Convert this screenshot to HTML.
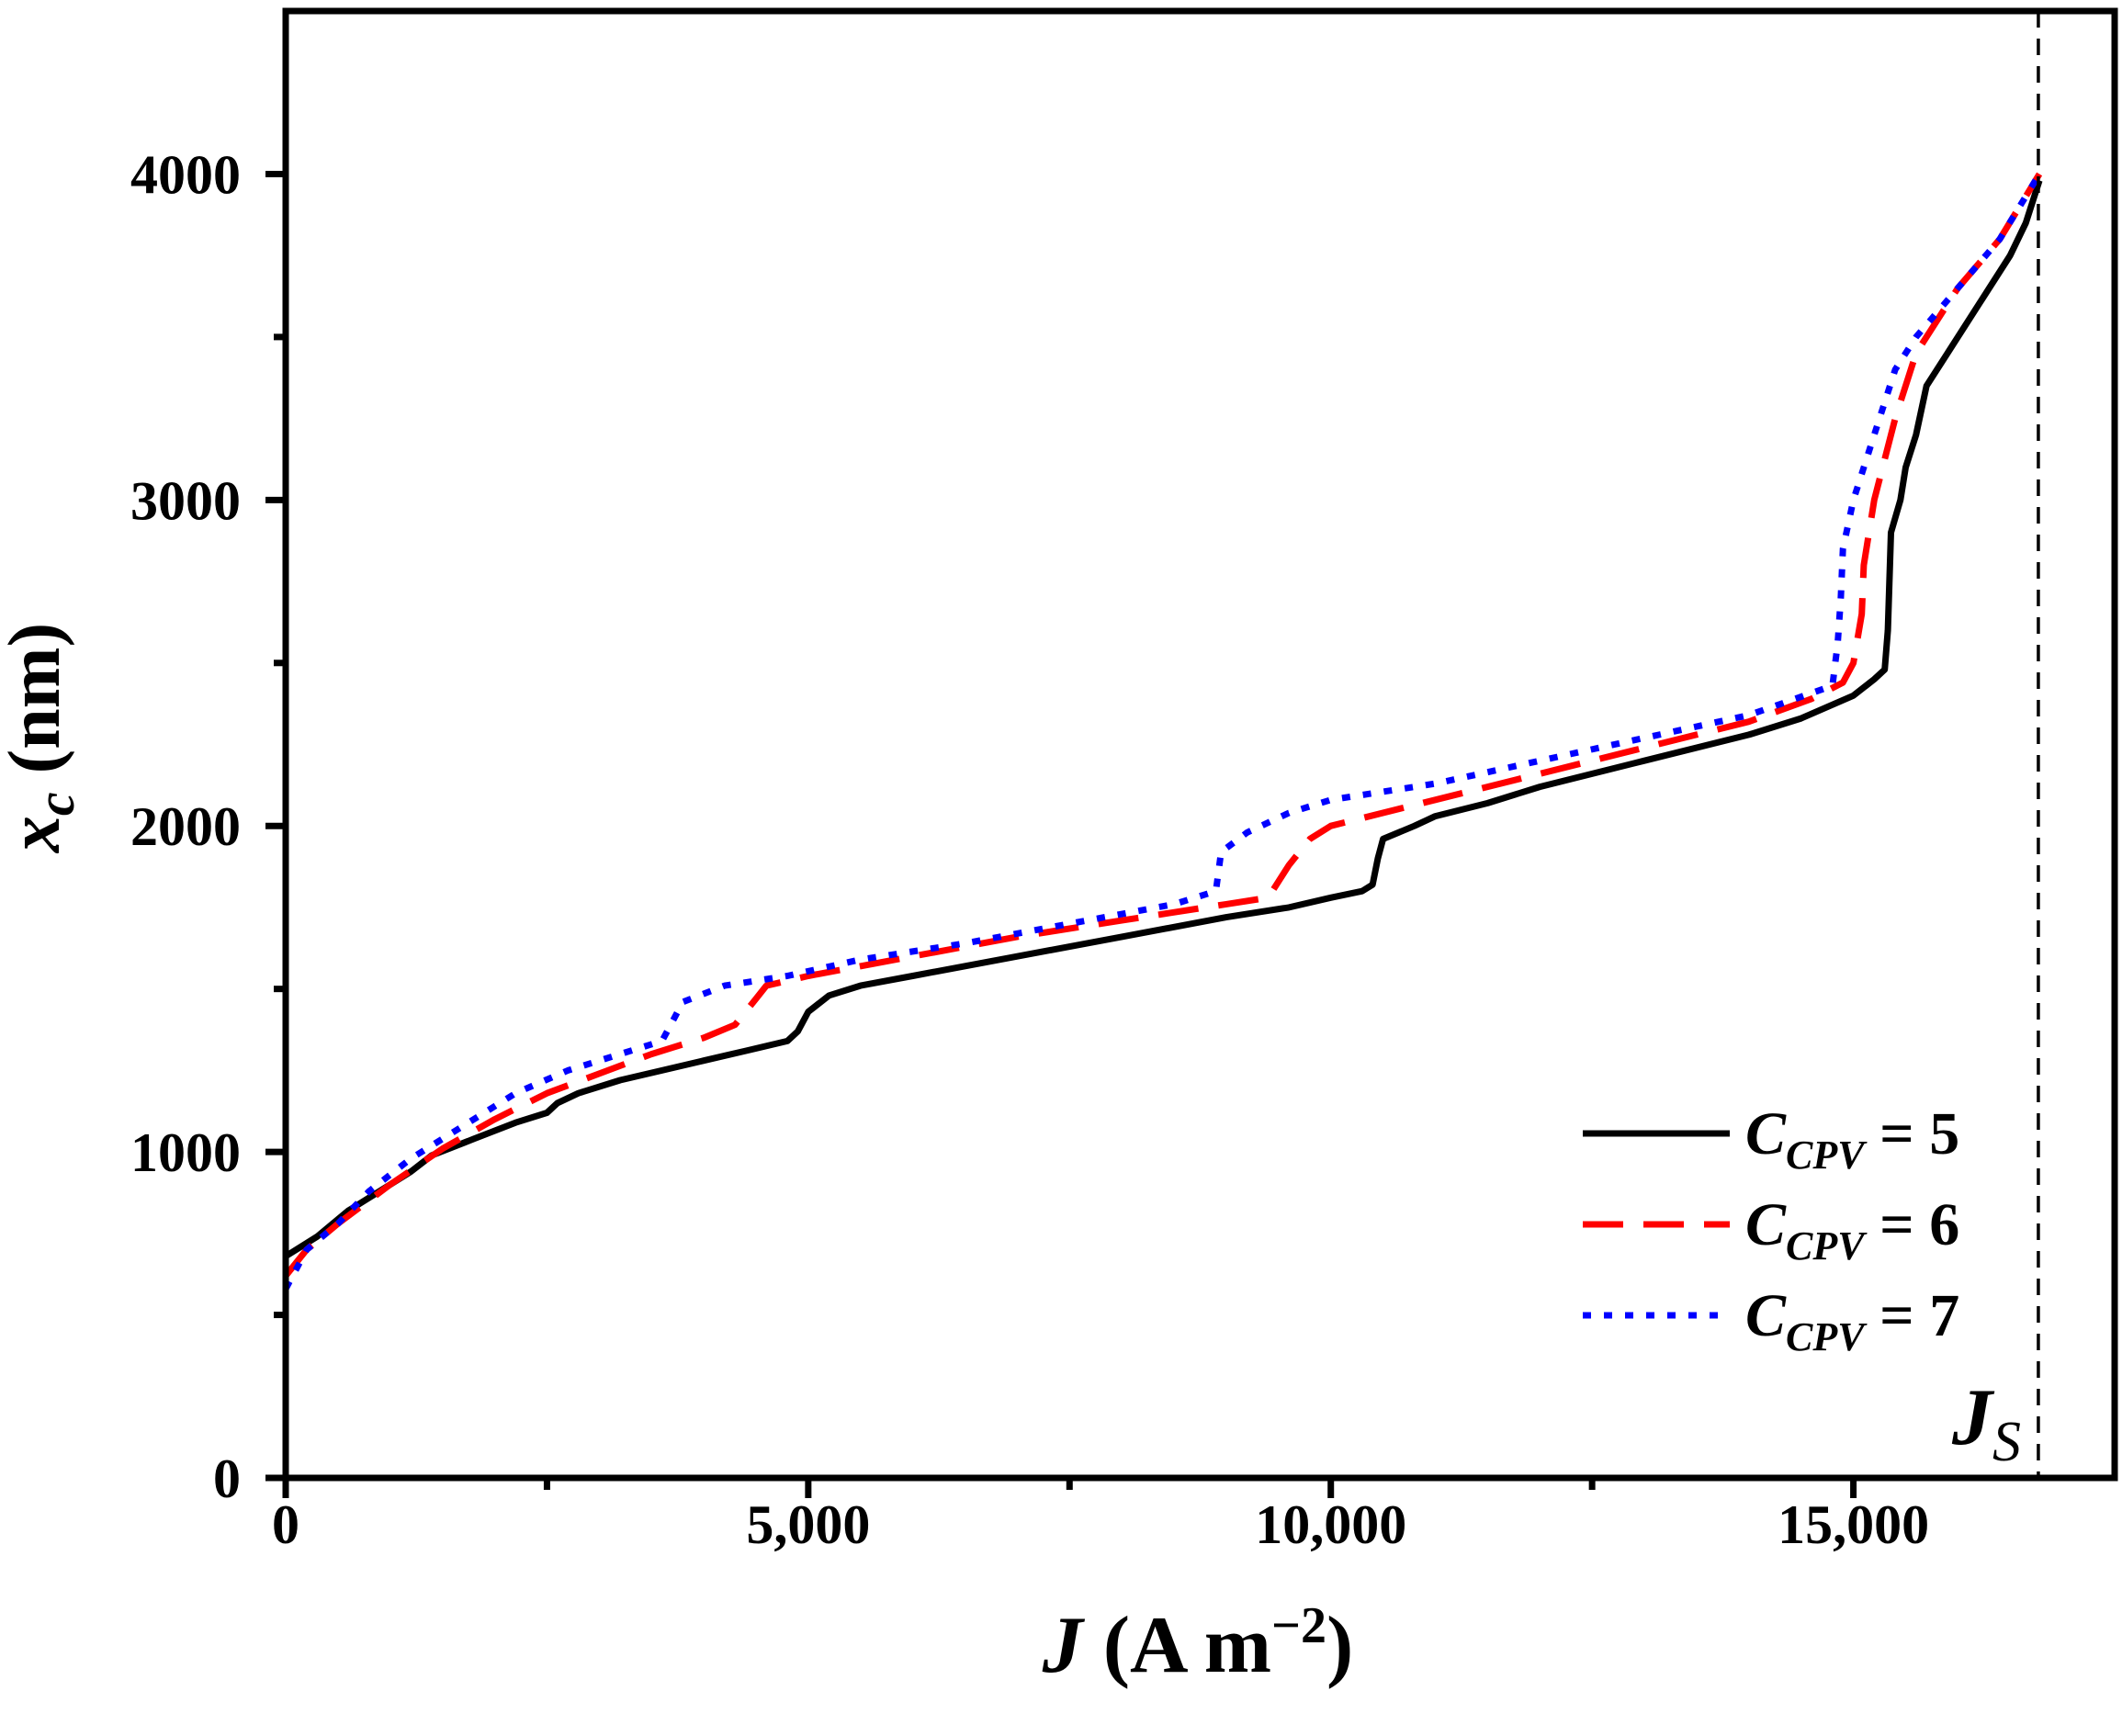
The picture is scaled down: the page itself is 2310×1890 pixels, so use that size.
<!DOCTYPE html>
<html><head><meta charset="utf-8"><style>
html,body{margin:0;padding:0;background:#fff}
svg{display:block}
svg text{font-family:"Liberation Serif","Times New Roman",serif;font-weight:bold}
</style></head><body>
<svg id="chart" width="2310" height="1890" viewBox="0 0 2310 1890" xmlns="http://www.w3.org/2000/svg">
<g id="plot"></g>
</svg>
<script>
const xTicks=[0,5000,10000,15000];
const xTickLabels=["0","5,000","10,000","15,000"];
const yTicks=[0,1000,2000,3000,4000];
const yTickLabels=["0","1000","2000","3000","4000"];
const jsValue=16770;
const seriesNames=["5","6","7"];
const c5J=[0,300,600,1000,1200,1400,1800,2200,2500,2600,2800,3200,3600,4000,4400,4800,4900,5000,5200,5500,6000,7000,8000,9000,9600,10000,10300,10400,10450,10500,10800,11000,11500,12000,13000,14000,14500,15000,15200,15300,15330,15360,15450,15500,15600,15700,15900,16200,16500,16650,16780];
const c5X=[680,740,820,900,940,990,1040,1090,1120,1150,1180,1220,1250,1280,1310,1340,1370,1430,1480,1510,1540,1600,1660,1720,1750,1780,1800,1820,1900,1960,2000,2030,2070,2120,2200,2280,2330,2400,2450,2480,2600,2900,3000,3100,3200,3350,3450,3600,3750,3850,3980];
const c6J=[0,200,500,1000,1500,2000,2500,3000,3500,4000,4300,4500,4600,5000,6000,7000,8000,9000,9400,9600,9800,10000,11000,12000,13000,14000,14600,14900,15000,15080,15100,15200,15400,15600,16000,16400,16780];
const c6X=[620,700,780,900,1010,1100,1180,1240,1300,1350,1390,1470,1510,1540,1600,1660,1710,1760,1780,1880,1960,2000,2080,2160,2240,2320,2390,2440,2500,2650,2800,3000,3250,3450,3650,3800,4000];
const c7J=[0,200,500,800,1200,1700,2200,2700,3200,3600,3700,3800,4200,4800,5500,6500,7500,8500,8900,8950,9200,9600,10000,11000,12000,13000,14000,14800,14850,14880,14900,15000,15200,15400,15600,16000,16400,16780];
const c7X=[580,700,780,880,980,1080,1180,1250,1300,1340,1400,1460,1510,1540,1590,1640,1700,1760,1800,1920,1980,2040,2080,2130,2200,2270,2340,2430,2560,2700,2850,3000,3200,3400,3500,3650,3800,4000];

const L=311,R=2302,T=12,B=1609,XMAX=17500,YMAX=4500;
const sx=v=>L+(R-L)*v/XMAX, sy=v=>B-(B-T)*v/YMAX;
const NS="http://www.w3.org/2000/svg";
const svg=document.getElementById('chart'), plot=document.getElementById('plot');
function mk(tag,attrs,parent){const e=document.createElementNS(NS,tag);for(const k in attrs)e.setAttribute(k,attrs[k]);(parent||svg).appendChild(e);return e;}

const series=[[c5J,c5X,"#000","",'series-ccpv-5'],[c6J,c6X,"#ff0000","44 22",'series-ccpv-6'],[c7J,c7X,"#0000ff","9 14",'series-ccpv-7']];
series.forEach(s=>{
  const d=s[0].map((j,i)=>(i?'L':'M')+sx(j).toFixed(1)+' '+sy(s[1][i]).toFixed(1)).join(' ');
  const p=mk('path',{d:d,fill:'none',stroke:s[2],'stroke-width':7,'stroke-dasharray':s[3],'stroke-linejoin':'round'},plot);
  
  
});
const js=mk('line',{x1:sx(jsValue),x2:sx(jsValue),y1:T,y2:B,stroke:'#000','stroke-width':3.5,'stroke-dasharray':'18 12'});



const frame=mk('rect',{x:L,y:T,width:R-L,height:B-T,fill:'none',stroke:'#000','stroke-width':7});



xTicks.forEach((v,i)=>{
  const t=mk('line',{x1:sx(v),x2:sx(v),y1:B,y2:B+22,stroke:'#000','stroke-width':7});
  
  
  const lb=mk('text',{x:sx(v),y:1680,'text-anchor':'middle','font-size':60});
  lb.textContent=xTickLabels[i];
  
  
});
for(let v=2500;v<XMAX;v+=5000){
  const t=mk('line',{x1:sx(v),x2:sx(v),y1:B,y2:B+13,stroke:'#000','stroke-width':7});
  
  
}
yTicks.forEach((v,i)=>{
  const t=mk('line',{x1:L-22,x2:L,y1:sy(v),y2:sy(v),stroke:'#000','stroke-width':7});
  
  
  const lb=mk('text',{x:262,y:sy(v)+21,'text-anchor':'end','font-size':60});
  lb.textContent=yTickLabels[i];
  
  
});
for(let v=500;v<YMAX;v+=1000){
  const t=mk('line',{x1:L-13,x2:L,y1:sy(v),y2:sy(v),stroke:'#000','stroke-width':7});
  
  
}
const legY=[1234,1333,1432];
series.forEach((s,i)=>{
  const ln=mk('line',{x1:1723,x2:1883,y1:legY[i],y2:legY[i],stroke:s[2],'stroke-width':7,'stroke-dasharray':s[3]});
  
  
  const tx=mk('text',{x:1900,y:legY[i]+22,'font-size':66});
  tx.innerHTML='<tspan font-style="italic">C</tspan><tspan font-style="italic" font-size="44" dy="16">CPV</tspan><tspan dy="-16"> = '+seriesNames[i]+'</tspan>';
  
  
});
function addText(html,attrs,name){const e=document.createElementNS(NS,'text');for(const k in attrs)e.setAttribute(k,attrs[k]);e.innerHTML=html;svg.appendChild(e);

}
addText('<tspan font-style="italic">J</tspan> (A m<tspan font-size="56" dy="-32">−2</tspan><tspan dy="32">)</tspan>',{x:1304,y:1820,'text-anchor':'middle','font-size':88},'x-axis-title');
addText('<tspan font-style="italic">x</tspan><tspan font-style="italic" font-size="58" dy="16">c</tspan><tspan dy="-16"> (nm)</tspan>',{x:0,y:0,transform:'translate(64,803) rotate(-90)','text-anchor':'middle','font-size':80},'y-axis-title');
addText('<tspan font-style="italic">J</tspan><tspan font-style="italic" font-size="62" dy="18" font-weight="normal">S</tspan>',{x:2125,y:1572,'font-size':88},'js-label');
</script>
</body></html>
